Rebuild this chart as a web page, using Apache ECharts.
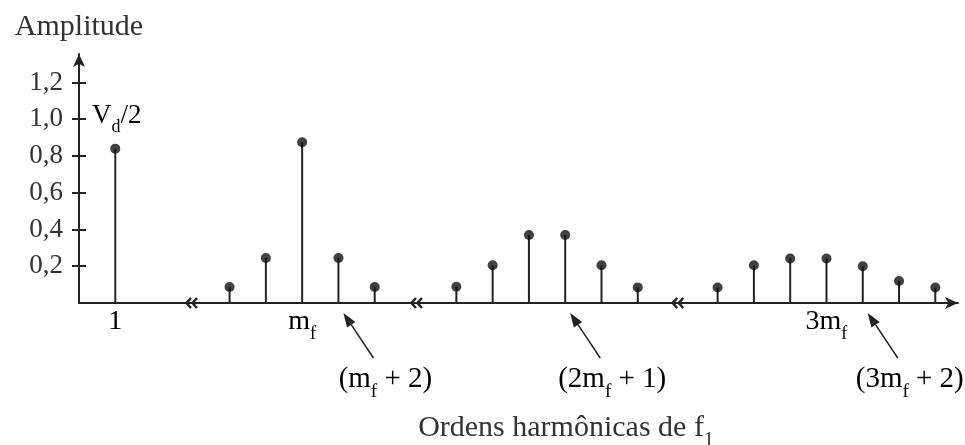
<!DOCTYPE html>
<html>
<head>
<meta charset="utf-8">
<script src="https://cdn.jsdelivr.net/npm/echarts@6/dist/echarts.min.js"></script>
<style>
  html, body { margin: 0; padding: 0; background: #fff; }
  #chart { width: 965px; height: 445px; }
</style>
</head>
<body>
<div id="chart"></div>
<script>
// Harmonic spectrum of a sinusoidal PWM inverter leg, amplitudes normalised to Vd/2.
const yTickValues = [0.2, 0.4, 0.6, 0.8, 1.0, 1.2];

// Each group: harmonic offsets around its carrier multiple, and the amplitudes.
const fundamentalOffsets = [0];
const fundamentalAmps = [0.84];
const mfOffsets = [-4, -2, 0, 2, 4];
const mfAmps = [0.087, 0.245, 0.875, 0.245, 0.087];
const twoMfOffsets = [-5, -3, -1, 1, 3, 5];
const twoMfAmps = [0.088, 0.205, 0.37, 0.37, 0.205, 0.085];
const threeMfOffsets = [-6, -4, -2, 0, 2, 4, 6];
const threeMfAmps = [0.084, 0.205, 0.242, 0.242, 0.2, 0.12, 0.084];

// Placement of the groups on the broken frequency axis (1 unit = 1 harmonic order)
const groupCentres = [2, 12.3, 25.8, 41.2];
const axisBreaks = [6.2, 18.6, 33.0];
const axisEnd = 48.45;
const yMax = 1.355;

// Axis labels under the groups and the arrowed call-outs ("_" marks a subscript)
const orderLabels = ['1', 'm_f', '3m_f'];
const orderLabelGroups = [0, 1, 3];
const calloutTexts = ['(m_f + 2)', '(2m_f + 1)', '(3m_f + 2)'];
const calloutGroups = [1, 2, 3];
const calloutOffsets = [2, 1, 2];

const SERIF = 'Liberation Serif';
const INK = '#222';
const TEXT = '#333';

const groups = [
  [fundamentalOffsets, fundamentalAmps],
  [mfOffsets, mfAmps],
  [twoMfOffsets, twoMfAmps],
  [threeMfOffsets, threeMfAmps]
];
const stems = [];
groups.forEach(([offs, amps], g) => {
  offs.forEach((o, i) => stems.push([groupCentres[g] + o, amps[i]]));
});

// Turn "m_f" into rich-text markup with a lowered subscript
function toRich(str) {
  let out = '';
  for (let i = 0; i < str.length; i++) {
    if (str[i] === '_' && i + 1 < str.length) { out += '{s|' + str[i + 1] + '}'; i++; }
    else out += '{n|' + str[i] + '}';
  }
  return out;
}
function richStyle(size) {
  const L = size + 6, ss = Math.round(size * 0.66), Ls = ss + 2;
  const pad = L / 2 + 0.34 * size + 0.25 * size - Ls / 2 - 0.34 * ss;
  return {
    n: { fontSize: size, fontFamily: SERIF, color: TEXT, lineHeight: L, verticalAlign: 'top' },
    s: { fontSize: ss, fontFamily: SERIF, color: TEXT, lineHeight: Ls, verticalAlign: 'top', padding: [pad, 0, 0, 0] }
  };
}

const chart = echarts.init(document.getElementById('chart'), null, { renderer: 'canvas' });

const option = {
  animation: false,
  backgroundColor: '#fff',
  grid: { left: 79, right: 7, top: 54, bottom: 142, containLabel: false, outerBoundsMode: 'none' },
  xAxis: {
    type: 'value', min: 0, max: axisEnd,
    axisLine: { show: true, onZero: false, lineStyle: { color: INK, width: 2 }, symbol: ['none', 'arrow'], symbolSize: [9, 13] },
    axisTick: { show: false }, axisLabel: { show: false }, splitLine: { show: false },
    name: toRich('Ordens harmônicas de f_1'),
    nameLocation: 'middle', nameGap: 110,
    nameTextStyle: { rich: richStyle(30), padding: [0, 0, 0, 95], verticalAlign: 'top' }
  },
  yAxis: [{
    type: 'value', min: 0, max: yMax,
    axisLine: { show: true, onZero: false, lineStyle: { color: INK, width: 2 }, symbol: ['none', 'arrow'], symbolSize: [9, 13] },
    axisTick: { show: true, length: 7, lineStyle: { color: INK, width: 2 }, customValues: yTickValues },
    axisLabel: {
      customValues: yTickValues, margin: 16,
      formatter: v => v.toFixed(1).replace('.', ','),
      fontSize: 27, fontFamily: SERIF, color: TEXT
    },
    splitLine: { show: false },
    name: 'Amplitude', nameLocation: 'end', nameGap: 12,
    nameTextStyle: { fontSize: 30, fontFamily: SERIF, color: TEXT, align: 'center' }
  }, {
    type: 'value', min: 0, max: yMax, position: 'left',
    axisLine: { show: false },
    axisTick: { show: true, inside: true, length: 7, lineStyle: { color: INK, width: 2 }, customValues: yTickValues },
    axisLabel: { show: false }, splitLine: { show: false }
  }],
  series: [{
    type: 'bar', data: stems, barWidth: 2,
    itemStyle: { color: INK }, silent: true
  }, {
    type: 'scatter', data: stems, symbol: 'circle', symbolSize: 10,
    itemStyle: { color: '#111' }, silent: true
  }]
};
chart.setOption(option);

const px = (x, y) => chart.convertToPixel({ seriesIndex: 0 }, [x, y]);
const graphics = [];

// Labels under the axis
orderLabels.forEach((t, i) => {
  const p = px(groupCentres[orderLabelGroups[i]], 0);
  graphics.push({
    type: 'text', x: p[0], y: p[1] + 5,
    style: { text: toRich(t), rich: richStyle(28), align: 'center', verticalAlign: 'top' }
  });
});

// Arrowed call-outs pointing at individual sidebands
calloutTexts.forEach((t, i) => {
  const p = px(groupCentres[calloutGroups[i]] + calloutOffsets[i], 0);
  const tip = [p[0] + 5, p[1] + 10];
  const tail = [p[0] + 35, p[1] + 55];
  const dx = tip[0] - tail[0], dy = tip[1] - tail[1];
  const len = Math.hypot(dx, dy), ux = dx / len, uy = dy / len;
  const hl = 14, hw = 5;
  const base = [tip[0] - ux * hl, tip[1] - uy * hl];
  graphics.push({
    type: 'line', shape: { x1: tail[0], y1: tail[1], x2: base[0], y2: base[1] },
    style: { stroke: INK, lineWidth: 1.5 }
  });
  graphics.push({
    type: 'polygon',
    shape: { points: [tip, [base[0] - uy * hw, base[1] + ux * hw], [base[0] + uy * hw, base[1] - ux * hw]] },
    style: { fill: INK }
  });
  graphics.push({
    type: 'text', x: p[0] + 47, y: p[1] + 62,
    style: { text: toRich(t), rich: richStyle(29), align: 'center', verticalAlign: 'top' }
  });
});

// Vd/2 reference beside the 1,0 tick
{
  const p = px(0, 1.0);
  graphics.push({
    type: 'text', x: p[0] + 13, y: p[1] - 17,
    style: { text: toRich('V_d/2'), rich: richStyle(27), align: 'left', verticalAlign: 'top' }
  });
}

// Break marks on the frequency axis
axisBreaks.forEach(b => {
  const p = px(b, 0);
  [-3, 3].forEach(dx => {
    graphics.push({
      type: 'polyline',
      shape: { points: [[p[0] + dx + 2.5, p[1] - 5], [p[0] + dx - 2, p[1]], [p[0] + dx + 2.5, p[1] + 5]] },
      style: { stroke: INK, lineWidth: 2.5, fill: null }
    });
  });
});

chart.setOption({ graphic: graphics });
</script>
</body>
</html>
